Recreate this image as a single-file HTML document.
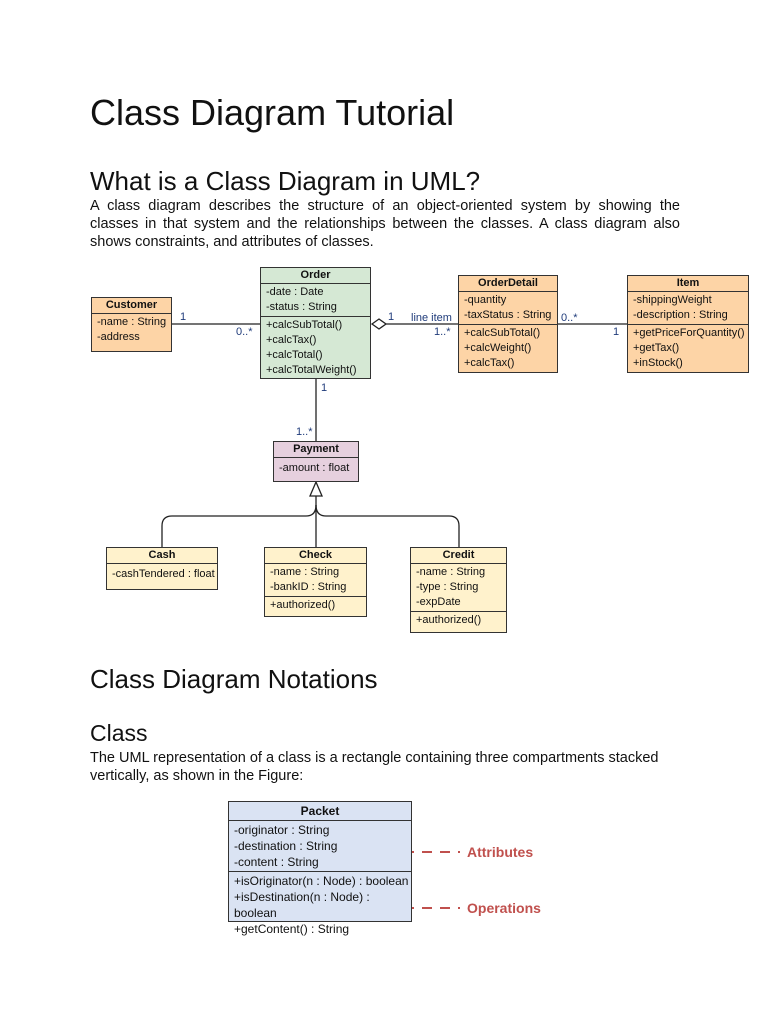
<!DOCTYPE html>
<html><head><meta charset="utf-8"><style>
body{margin:0;width:768px;height:1024px;background:#fff;position:relative;font-family:"Liberation Sans",sans-serif;color:#111;overflow:hidden}
.t{position:absolute;white-space:nowrap}
.b{position:absolute;border:1px solid #333;box-sizing:border-box;font-size:11px;line-height:15px}
.b .h{font-weight:bold;text-align:center;border-bottom:1px solid #333}
.b .s{padding:1px 0 1px 5px}
.b .s+.s{border-top:1px solid #333}
.l{position:absolute;font-size:11px;color:#1f3b7a}
</style></head><body>
<div class="t" style="left:90px;top:92px;font-size:36px">Class Diagram Tutorial</div>
<div class="t" style="left:90px;top:166px;font-size:26px">What is a Class Diagram in UML?</div>
<div class="t" style="left:90px;top:197px;font-size:14.5px;line-height:18px;white-space:normal;width:590px;text-align:justify">A class diagram describes the structure of an object-oriented system by showing the classes in that system and the relationships between the classes. A class diagram also shows constraints, and attributes of classes.</div>

<svg style="position:absolute;left:0;top:0" width="768" height="1024">
<g stroke="#222" stroke-width="1.3" fill="none">
<line x1="171" y1="324" x2="260" y2="324"/>
<line x1="386" y1="324" x2="458" y2="324"/>
<polygon points="372,324 379,319 386,324 379,329" fill="#fff"/>
<line x1="557" y1="324" x2="627" y2="324"/>
<line x1="316" y1="378" x2="316" y2="441"/>
<polygon points="316,482 310,496 322,496" fill="#fff"/>
<line x1="316" y1="496" x2="316" y2="547"/>
<path d="M316,505 Q316,516 306,516 L172,516 Q162,516 162,526 L162,547"/>
<path d="M316,505 Q316,516 326,516 L449,516 Q459,516 459,526 L459,547"/>
</g>
<g stroke="#c0504d" stroke-width="2" fill="none" stroke-dasharray="10,8">
<line x1="404" y1="852" x2="460" y2="852"/>
<line x1="404" y1="908" x2="460" y2="908"/>
</g>
<polygon points="395,852 405,848 405,856" fill="#c0504d"/>
<polygon points="395,908 405,904 405,912" fill="#c0504d"/>
</svg>
<div class="t" style="left:467px;top:844px;font-size:14px;font-weight:bold;color:#c0504d">Attributes</div>
<div class="t" style="left:467px;top:900px;font-size:14px;font-weight:bold;color:#c0504d">Operations</div>

<div class="l" style="left:180px;top:311px">1</div>
<div class="l" style="left:236px;top:326px">0..*</div>
<div class="l" style="left:388px;top:311px">1</div>
<div class="l" style="left:411px;top:312px">line item</div>
<div class="l" style="left:434px;top:326px">1..*</div>
<div class="l" style="left:561px;top:312px">0..*</div>
<div class="l" style="left:613px;top:326px">1</div>
<div class="l" style="left:321px;top:382px">1</div>
<div class="l" style="left:296px;top:426px">1..*</div>

<div class="b" style="left:91px;top:297px;width:81px;height:55px;background:#fdd4a6"><div class="h">Customer</div><div class="s">-name : String<br>-address</div></div>
<div class="b" style="left:260px;top:267px;width:111px;height:112px;background:#d5e8d4"><div class="h">Order</div><div class="s">-date : Date<br>-status : String</div><div class="s">+calcSubTotal()<br>+calcTax()<br>+calcTotal()<br>+calcTotalWeight()</div></div>
<div class="b" style="left:458px;top:275px;width:100px;height:98px;background:#fdd4a6"><div class="h">OrderDetail</div><div class="s">-quantity<br>-taxStatus : String</div><div class="s">+calcSubTotal()<br>+calcWeight()<br>+calcTax()</div></div>
<div class="b" style="left:627px;top:275px;width:122px;height:98px;background:#fdd4a6"><div class="h">Item</div><div class="s">-shippingWeight<br>-description : String</div><div class="s">+getPriceForQuantity()<br>+getTax()<br>+inStock()</div></div>
<div class="b" style="left:273px;top:441px;width:86px;height:41px;background:#e6d0de"><div class="h">Payment</div><div class="s" style="padding-top:3px">-amount : float</div></div>
<div class="b" style="left:106px;top:547px;width:112px;height:43px;background:#fff2cc"><div class="h">Cash</div><div class="s" style="padding-top:3px">-cashTendered : float</div></div>
<div class="b" style="left:264px;top:547px;width:103px;height:70px;background:#fff2cc"><div class="h">Check</div><div class="s">-name : String<br>-bankID : String</div><div class="s">+authorized()</div></div>
<div class="b" style="left:410px;top:547px;width:97px;height:86px;background:#fff2cc"><div class="h">Credit</div><div class="s">-name : String<br>-type : String<br>-expDate</div><div class="s">+authorized()</div></div>

<div class="t" style="left:90px;top:664px;font-size:26px">Class Diagram Notations</div>
<div class="t" style="left:90px;top:720px;font-size:23px">Class</div>
<div class="t" style="left:90px;top:749px;font-size:14.5px;line-height:18px">The UML representation of a class is a rectangle containing three compartments stacked<br>vertically, as shown in the Figure:</div>

<div class="b" style="left:228px;top:801px;width:184px;height:121px;background:#dae3f3;font-size:12px;line-height:16px"><div class="h" style="padding:1px 0">Packet</div><div class="s">-originator : String<br>-destination : String<br>-content : String</div><div class="s">+isOriginator(n : Node) : boolean<br>+isDestination(n : Node) : boolean<br>+getContent() : String</div></div>
</body></html>
